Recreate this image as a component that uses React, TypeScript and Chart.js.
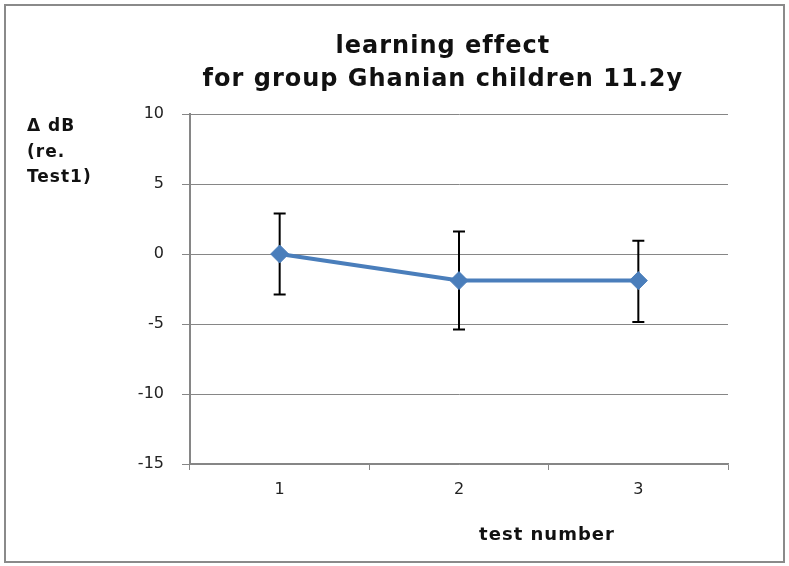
import React, { useEffect, useRef } from 'react';
import { Chart, registerables } from 'chart.js';

Chart.register(...registerables);

// ---- data ----
const categories = ['1', '2', '3'];
const meanValues = [0, -1.9, -1.9];
const errorUpper = [2.9, 1.6, 0.95];
const errorLower = [-2.9, -5.4, -4.85];
const yTickValues = [-15, -10, -5, 0, 5, 10];
const titleLines = ['learning effect', 'for group Ghanian children 11.2y'];
const yLabelLines = ['Δ dB', '(re.', 'Test1)'];
const xLabel = 'test number';

const LINE_BLUE = '#4a7ebb';
const GRID_GRAY = '#868686';

const frameAndBackground = {
  id: 'frameAndBackground',
  beforeDraw(chart: any) {
    const { ctx, width, height } = chart;
    ctx.save();
    ctx.fillStyle = '#ffffff';
    ctx.fillRect(0, 0, width, height);
    ctx.strokeStyle = '#8a8a8a';
    ctx.lineWidth = 2;
    ctx.strokeRect(5, 5, width - 10, height - 9);
    ctx.restore();
  },
};

const errorBars = {
  id: 'errorBars',
  beforeDatasetsDraw(chart: any) {
    const { ctx } = chart;
    const xs = chart.scales.x;
    const ys = chart.scales.y;
    ctx.save();
    ctx.strokeStyle = '#000000';
    ctx.lineWidth = 2;
    const cap = 6;
    categories.forEach((_, i) => {
      const x = xs.getPixelForValue(i);
      const yt = ys.getPixelForValue(errorUpper[i]);
      const yb = ys.getPixelForValue(errorLower[i]);
      ctx.beginPath();
      ctx.moveTo(x, yt);
      ctx.lineTo(x, yb);
      ctx.moveTo(x - cap, yt);
      ctx.lineTo(x + cap, yt);
      ctx.moveTo(x - cap, yb);
      ctx.lineTo(x + cap, yb);
      ctx.stroke();
    });
    ctx.restore();
  },
};

const textLabels = {
  id: 'textLabels',
  afterDraw(chart: any) {
    const { ctx, chartArea } = chart;
    ctx.save();
    ctx.fillStyle = '#111111';
    // title
    ctx.font = 'bold 24px "DejaVu Sans"';
    (ctx as any).letterSpacing = '1px';
    ctx.textAlign = 'center';
    ctx.textBaseline = 'middle';
    const tx = chartArea.left + (chartArea.right - chartArea.left) * 0.47;
    titleLines.forEach((line, i) => {
      ctx.fillText(line, tx, 47 + i * 33);
    });
    // y label
    ctx.font = 'bold 17px "DejaVu Sans"';
    (ctx as any).letterSpacing = '1px';
    ctx.textAlign = 'left';
    yLabelLines.forEach((line, i) => {
      ctx.fillText(line, 27, 127 + i * 25.5);
    });
    // x label
    ctx.font = 'bold 18px "DejaVu Sans"';
    (ctx as any).letterSpacing = '1px';
    ctx.textAlign = 'center';
    ctx.fillText(xLabel, 547, 535);
    (ctx as any).letterSpacing = '0px';
    ctx.restore();
  },
};

export default function App() {
  const canvasRef = useRef<HTMLCanvasElement | null>(null);

  useEffect(() => {
    document.body.style.margin = '0';
    const canvas = canvasRef.current;
    if (!canvas) return;
    const chart = new Chart(canvas, {
      type: 'line',
      data: {
        labels: categories,
        datasets: [
          {
            data: meanValues,
            borderColor: LINE_BLUE,
            backgroundColor: LINE_BLUE,
            borderWidth: 4,
            tension: 0,
            pointStyle: 'rectRot',
            pointRadius: 9,
            pointHoverRadius: 9,
            pointBackgroundColor: LINE_BLUE,
            pointBorderColor: LINE_BLUE,
            pointBorderWidth: 1,
          },
        ],
      },
      options: {
        responsive: false,
        animation: false,
        devicePixelRatio: 1,
        layout: { padding: { left: 0, top: 114, right: 61, bottom: 0 } },
        plugins: {
          legend: { display: false },
          title: { display: false },
          tooltip: { enabled: false },
        },
        scales: {
          x: {
            type: 'category',
            offset: true,
            afterFit(scale: any) {
              scale.height = 102;
            },
            grid: {
              offset: true,
              drawOnChartArea: false,
              drawTicks: true,
              tickLength: 6,
              color: GRID_GRAY,
              lineWidth: 1,
            },
            border: { color: GRID_GRAY, width: 1.5 },
            ticks: {
              color: '#222222',
              padding: 10,
              font: { family: '"DejaVu Sans"', size: 16 },
            },
          },
          y: {
            min: -15,
            max: 10,
            afterFit(scale: any) {
              scale.width = 190;
            },
            afterBuildTicks(scale: any) {
              scale.ticks = yTickValues.map((v) => ({ value: v }));
            },
            grid: {
              color: GRID_GRAY,
              lineWidth: 1,
              drawTicks: true,
              tickLength: 8,
            },
            border: { color: GRID_GRAY, width: 2 },
            ticks: {
              color: '#222222',
              padding: 18,
              font: { family: '"DejaVu Sans"', size: 16 },
            },
          },
        },
      },
      plugins: [frameAndBackground, errorBars, textLabels],
    });
    return () => chart.destroy();
  }, []);

  return (
    <div style={{ width: 789, height: 566 }}>
      <canvas ref={canvasRef} width={789} height={566} style={{ width: 789, height: 566, display: 'block' }} />
    </div>
  );
}
